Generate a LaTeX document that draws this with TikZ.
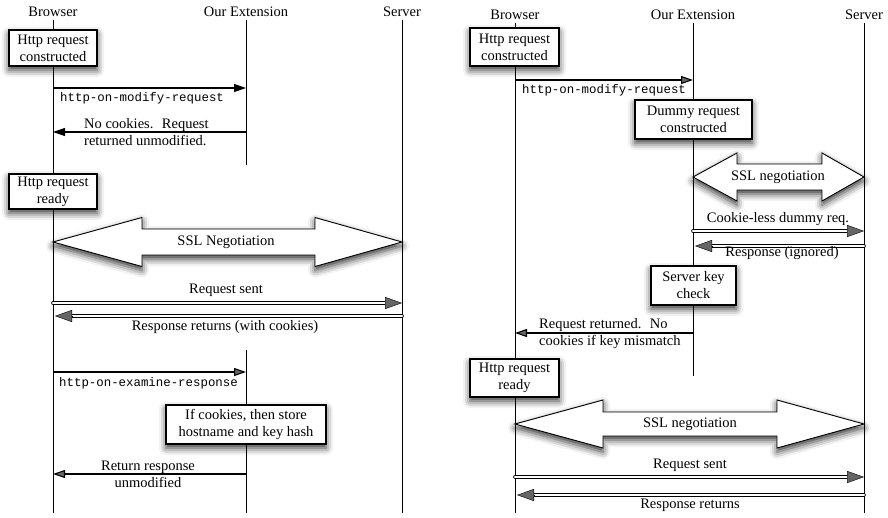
\documentclass[tikz,border=0pt]{standalone}
\usepackage{fontspec}
\setmainfont{Liberation Serif}
\setmonofont{Liberation Mono}
\usetikzlibrary{%
	arrows.meta,%
	calc,%
	shadows.blur%
}
\tikzset{
	actor/.style={font=\fontsize{14.5}{17}\selectfont, inner sep=0pt},
	life/.style={line width=0.9pt},
	stepbox/.style={draw, line width=1.1pt, fill=white, align=center,
		inner sep=1pt, font=\fontsize{14.5}{17}\selectfont,
		blur shadow={shadow xshift=0pt, shadow yshift=-4pt,
			shadow blur radius=7pt, shadow opacity=80}},
	msg/.style={line width=1.1pt, -{Triangle[length=12pt,width=8pt]}},
	bulk/.style={double, line width=0.7pt, double distance=2.2pt,
		line cap=round, shorten >=15pt},
	bulktip/.style={line width=0.4pt, -{Triangle[length=17pt,width=12pt]}},
	lbl/.style={font=\fontsize{14.5}{17}\selectfont, inner sep=0pt},
	hook/.style={font=\fontsize{12.4}{14}\selectfont\ttfamily, inner sep=0pt},
	ssl/.style={draw, line width=0.9pt, fill=white, line join=miter,
		blur shadow={shadow xshift=0pt, shadow yshift=-4pt,
			shadow blur radius=7pt, shadow opacity=80}}
}

\begin{document}
\begin{tikzpicture}[x=1pt, y=1pt]
	\useasboundingbox (0,0) rectangle (888,-517);

	% Left diagram: actors and lifelines
	\node[actor] (bL) at (53,-12) {Browser};
	\node[actor] (eL) at (246,-12) {Our Extension};
	\node[actor] (sL) at (402,-12) {Server};
	\draw[life] (bL |- 0,-20) -- (bL |- 0,-513);
	\draw[life] (eL |- 0,-20) -- (eL |- 0,-165);
	\draw[life] (eL |- 0,-350) -- (eL |- 0,-513);
	\draw[life] (sL |- 0,-20) -- (sL |- 0,-513);

	% Left diagram: steps
	\node[stepbox, minimum width=88pt, minimum height=36pt] (consL) at (53,-48) {Http request\\constructed};
	\draw[msg] (bL |- 0,-88) -- (eL |- 0,-88);
	\node[hook, anchor=west] (modL) at (60,-98) {http-on-modify-request};
	\draw[msg] (eL |- 0,-132) -- (bL |- 0,-132);
	\node[lbl, anchor=west, align=left] (noL) at (84,-132) {No cookies.~ Request\\returned unmodified.};

	\node[stepbox, minimum width=88pt, minimum height=35pt] (readyL) at (53,-191.5) {Http request\\ready};
	\draw[ssl] (53,-242) -- (142,-217.5) -- (142,-229) -- (315,-229) -- (315,-217.5)
		-- (402,-242) -- (315,-266.5) -- (315,-255) -- (142,-255) -- (142,-266.5) -- cycle;
	\node[lbl] (sslL) at (226,-242) {SSL Negotiation};

	\node[lbl] (sentL) at (226,-290) {Request sent};
	\draw[bulk] (bL |- 0,-303) -- (sL |- 0,-303);
	\draw[bulktip] ($(sL |- 0,-303)+(-17,0)$) -- (sL |- 0,-303);
	\draw[bulk] (sL |- 0,-316) -- (bL |- 0,-316);
	\draw[bulktip] ($(bL |- 0,-316)+(19,0)$) -- ($(bL |- 0,-316)+(2,0)$);
	\node[lbl] (backL) at (225,-327) {Response returns (with cookies)};

	\draw[msg] (bL |- 0,-372) -- (eL |- 0,-372);
	\node[hook, anchor=west] (examL) at (59,-383) {http-on-examine-response};
	\node[stepbox, minimum width=160pt, minimum height=39pt] (storeL) at (246,-424.5) {If cookies, then store\\hostname and key hash};
	\draw[msg] (eL |- 0,-474) -- (bL |- 0,-474);
	\node[lbl, align=center] (retL) at (148,-474) {Return response\\unmodified};

	% Right diagram: actors and lifelines
	\node[actor] (bR) at (515,-15) {Browser};
	\node[actor] (eR) at (693,-15) {Our Extension};
	\node[actor] (sR) at (864,-15) {Server};
	\draw[life] (bR |- 0,-23) -- (bR |- 0,-513);
	\draw[life] (eR |- 0,-23) -- (eR |- 0,-376);
	\draw[life] (sR |- 0,-23) -- (sR |- 0,-513);

	% Right diagram: steps
	\node[stepbox, minimum width=89pt, minimum height=38pt] (consR) at (514.5,-47) {Http request\\constructed};
	\draw[msg] (bR |- 0,-80) -- (eR |- 0,-80);
	\node[hook, anchor=west] (modR) at (522,-90) {http-on-modify-request};
	\node[stepbox, minimum width=117pt, minimum height=39pt] (dummyR) at (693.5,-119.5) {Dummy request\\constructed};

	\draw[ssl] (693,-177) -- (737,-153) -- (737,-164) -- (822,-164) -- (822,-153)
		-- (864,-177) -- (822,-201) -- (822,-190) -- (737,-190) -- (737,-201) -- cycle;
	\node[lbl] (sslR) at (778,-177) {SSL negotiation};

	\node[lbl] (lessR) at (778,-219) {Cookie-less dummy req.};
	\draw[bulk] (eR |- 0,-231) -- (sR |- 0,-231);
	\draw[bulktip] ($(sR |- 0,-231)+(-17,0)$) -- (sR |- 0,-231);
	\draw[bulk] (sR |- 0,-246) -- (eR |- 0,-246);
	\draw[bulktip] ($(eR |- 0,-246)+(19,0)$) -- ($(eR |- 0,-246)+(2,0)$);
	\node[lbl] (ignR) at (782,-253) {Response (ignored)};

	\node[stepbox, minimum width=85pt, minimum height=39pt] (keyR) at (693.5,-285.5) {Server key\\check};
	\draw[msg] (eR |- 0,-333) -- (bR |- 0,-333);
	\node[lbl, anchor=west, align=left] (mismR) at (539,-334) {Request returned.~ No\\cookies if key mismatch};

	\node[stepbox, minimum width=89pt, minimum height=38pt] (readyR) at (514.5,-378) {Http request\\ready};
	\draw[ssl] (515,-424) -- (603,-400) -- (603,-412) -- (777,-412) -- (777,-400)
		-- (864,-424) -- (777,-448) -- (777,-436) -- (603,-436) -- (603,-448) -- cycle;
	\node[lbl] (sslR2) at (690,-424) {SSL negotiation};

	\node[lbl] (sentR) at (690,-465) {Request sent};
	\draw[bulk] (bR |- 0,-477) -- (sR |- 0,-477);
	\draw[bulktip] ($(sR |- 0,-477)+(-17,0)$) -- (sR |- 0,-477);
	\draw[bulk] (sR |- 0,-495) -- (bR |- 0,-495);
	\draw[bulktip] ($(bR |- 0,-495)+(19,0)$) -- ($(bR |- 0,-495)+(2,0)$);
	\node[lbl] (backR) at (690,-505) {Response returns};
\end{tikzpicture}
\end{document}
